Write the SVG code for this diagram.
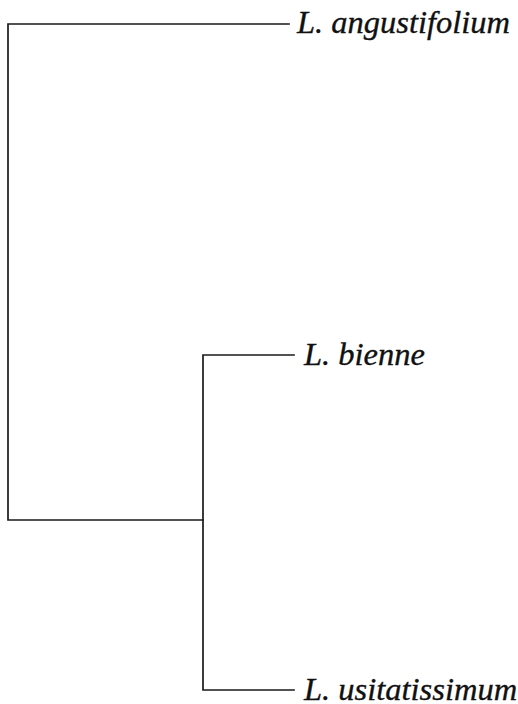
<svg xmlns="http://www.w3.org/2000/svg" width="518" height="704" viewBox="0 0 518 704">
  <style>
    .branch { fill: none; stroke: #1a1a1a; stroke-width: 1.7; stroke-linecap: square; }
    .taxon { font-family: "Liberation Serif", "Times New Roman", serif; font-style: italic; font-size: 32.5px; fill: #111; stroke: #111; stroke-width: 0.35; }
  </style>
  <rect width="518" height="704" fill="#fff"/>
  <g id="connectors">
    <path class="branch" d="M289 24 H8 V520 H203"/>
    <path class="branch" d="M294 355 H203 V690 H294"/>
  </g>
  <g id="angustifolium">
    <text class="taxon" x="297" y="33">L. angustifolium</text>
  </g>
  <g id="bienne">
    <text class="taxon" x="304" y="365">L. bienne</text>
  </g>
  <g id="usitatissimum">
    <text class="taxon" x="304" y="700">L. usitatissimum</text>
  </g>
</svg>
